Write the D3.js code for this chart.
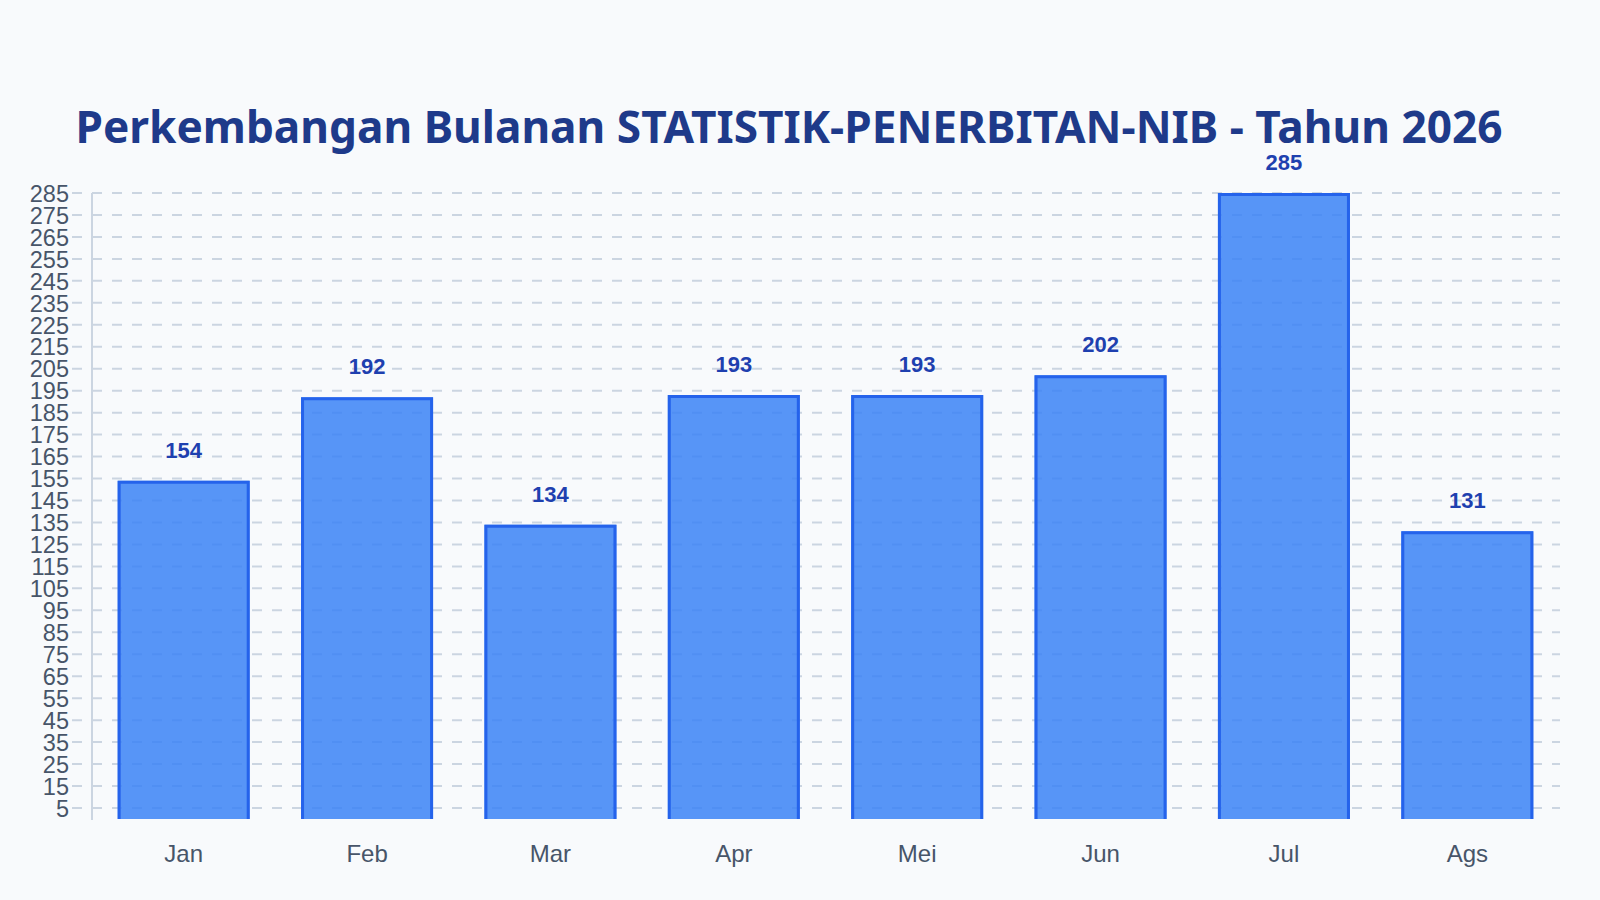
<!DOCTYPE html>
<html>
<head>
<meta charset="utf-8">
<script src="https://cdn.jsdelivr.net/npm/d3@7"></script>
<style>
  html, body { margin: 0; padding: 0; background: #f8fafc; }
</style>
</head>
<body>
<div id="chart"></div>
<script>
const title = 'Perkembangan Bulanan STATISTIK-PENERBITAN-NIB - Tahun 2026'
const months = ['Jan', 'Feb', 'Mar', 'Apr', 'Mei', 'Jun', 'Jul', 'Ags']
const values = [154, 192, 134, 193, 193, 202, 285, 131]
const yTicks = [5, 15, 25, 35, 45, 55, 65, 75, 85, 95, 105, 115, 125, 135, 145,
  155, 165, 175, 185, 195, 205, 215, 225, 235, 245, 255, 265, 275, 285]

const width = 1600
const height = 900
const plot = { left: 92, right: 1559, top: 193, bottom: 819 }
const border = 3

const svg = d3.select('#chart')
  .append('svg')
  .attr('width', width)
  .attr('height', height)
  .style('background', '#f8fafc')

// bars take 72% of each category slot, centred
const xScale = d3.scaleBand()
  .domain(months)
  .range([plot.left, plot.right])
  .paddingInner(0.28)
  .paddingOuter(0.14)

const yScale = d3.scaleLinear()
  .domain([0, 285])
  .range([plot.bottom, plot.top])

// title
svg.append('text')
  .attr('x', 789)
  .attr('y', 143)
  .attr('text-anchor', 'middle')
  .style('font-family', '"Noto Sans", sans-serif')
  .style('font-weight', 700)
  .style('font-size', '44.2px')
  .style('fill', '#1e3a8a')
  .text(title)

// gridlines (dashed, starting a little left of the axis)
svg.append('g')
  .attr('class', 'grid')
  .selectAll('line')
  .data(yTicks)
  .enter()
  .append('line')
  .attr('x1', plot.left - 20)
  .attr('x2', plot.right + 1)
  .attr('y1', d => yScale(d))
  .attr('y2', d => yScale(d))
  .attr('stroke', '#cbd5e1')
  .attr('stroke-width', 2)
  .attr('stroke-dasharray', '10,10')

// y axis labels
const yAxis = d3.axisLeft(yScale)
  .tickValues(yTicks)
  .tickSize(0)
  .tickPadding(0)

const gY = svg.append('g')
  .attr('transform', `translate(${plot.left - 23},0)`)
  .call(yAxis)
gY.select('.domain').remove()
gY.selectAll('text')
  .attr('dy', '0.35em')
  .style('font-family', '"Liberation Sans", Arial, sans-serif')
  .style('font-size', '23.5px')
  .style('fill', '#475569')

// y axis line
svg.append('line')
  .attr('x1', plot.left)
  .attr('x2', plot.left)
  .attr('y1', yScale(285))
  .attr('y2', plot.bottom + 1)
  .attr('stroke', '#cbd5e1')
  .attr('stroke-width', 2)

// bars
const bars = svg.append('g')
  .selectAll('g')
  .data(months.map((m, i) => ({ month: m, value: values[i] })))
  .enter()
  .append('g')

bars.append('rect')
  .attr('x', d => xScale(d.month))
  .attr('y', d => yScale(d.value))
  .attr('width', xScale.bandwidth())
  .attr('height', d => yScale(0) - yScale(d.value))
  .attr('fill', '#3b82f6')
  .attr('fill-opacity', 0.85)

// border drawn inside the bar, no border along the base
bars.append('path')
  .attr('d', d => {
    const x0 = xScale(d.month) + border / 2
    const x1 = xScale(d.month) + xScale.bandwidth() - border / 2
    const yTop = yScale(d.value) + border / 2
    return `M${x0},${yScale(0)}V${yTop}H${x1}V${yScale(0)}`
  })
  .attr('fill', 'none')
  .attr('stroke', '#2563eb')
  .attr('stroke-width', border)

bars.append('text')
  .attr('x', d => xScale(d.month) + xScale.bandwidth() / 2)
  .attr('y', d => yScale(d.value) - 23)
  .attr('text-anchor', 'middle')
  .style('font-family', '"Liberation Sans", Arial, sans-serif')
  .style('font-weight', 700)
  .style('font-size', '22px')
  .style('fill', '#1e40af')
  .text(d => d.value)

// x axis labels
const xAxis = d3.axisBottom(xScale).tickSize(0).tickPadding(0)
const gX = svg.append('g')
  .attr('transform', `translate(0,${plot.bottom})`)
  .call(xAxis)
gX.select('.domain').remove()
gX.selectAll('text')
  .attr('y', 43)
  .attr('dy', 0)
  .style('font-family', '"Liberation Sans", Arial, sans-serif')
  .style('font-size', '24px')
  .style('fill', '#475569')
</script>
</body>
</html>
